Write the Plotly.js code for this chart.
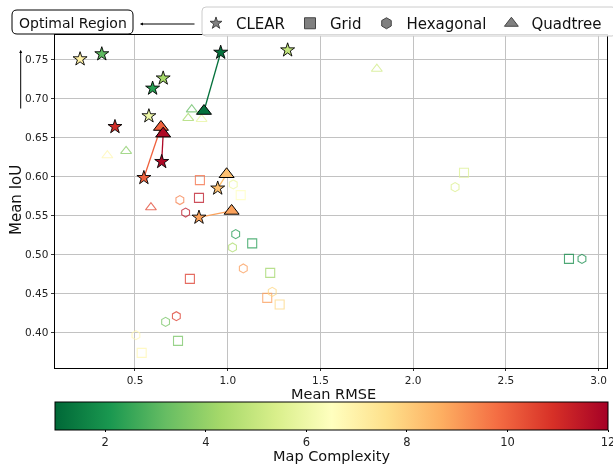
<!DOCTYPE html>
<html>
<head>
<meta charset="utf-8">
<script src="https://cdn.plot.ly/plotly-3.0.1.min.js"></script>
<style>html,body{margin:0;padding:0;background:#fff;}#chart{width:613px;height:465px;}</style>
</head>
<body>
<div id="chart"></div>
<script>
// ---- data ----
const clearX = [0.204, 0.321, 0.962, 1.323, 0.652, 0.595, 0.575, 0.392, 0.644, 0.548, 0.946, 0.845];
const clearY = [0.7506, 0.757, 0.759, 0.762, 0.726, 0.713, 0.6776, 0.6638, 0.619, 0.5985, 0.585, 0.5477];
const clearC = [7.0, 3.1, 1.2, 4.9, 4.3, 2.3, 6.0, 11.0, 11.8, 10.0, 8.3, 8.9];

const quadFilledX = [0.872, 0.640, 0.652, 0.994, 1.021];
const quadFilledY = [0.684, 0.6635, 0.655, 0.603, 0.556];
const quadFilledC = [1.2, 10.0, 11.8, 8.3, 8.9];
const pairStar = [2, 9, 8, 10, 11];

const quadOpenX = [0.806, 0.787, 0.859, 0.351, 0.452, 0.586, 1.804];
const quadOpenY = [0.686, 0.675, 0.6737, 0.6272, 0.6327, 0.5605, 0.738];
const quadOpenC = [3.2, 4.3, 5.8, 6.8, 3.8, 10.5, 5.2];

const gridX = [0.850, 0.845, 1.070, 2.274, 1.132, 1.229, 0.796, 1.213, 1.280, 0.732, 0.536, 2.840];
const gridY = [0.5955, 0.5728, 0.5763, 0.6049, 0.5144, 0.4767, 0.469, 0.4446, 0.4362, 0.3895, 0.3742, 0.4946];
const gridC = [9.8, 11.5, 6.5, 5.5, 2.2, 4.2, 10.7, 9.0, 7.8, 3.5, 6.8, 1.8];

const hexX = [1.030, 0.742, 0.773, 1.043, 1.026, 1.084, 1.240, 0.723, 0.665, 0.505, 2.226, 2.910];
const hexY = [0.590, 0.5699, 0.554, 0.5263, 0.5092, 0.4823, 0.4523, 0.4212, 0.4139, 0.3968, 0.5865, 0.4946];
const hexC = [6.0, 9.5, 11.5, 2.2, 4.5, 9.0, 7.8, 10.7, 3.5, 6.8, 5.5, 1.8];

const legendNames = ['CLEAR', 'Grid', 'Hexagonal', 'Quadtree'];
const xTicks = [0.5, 1.0, 1.5, 2.0, 2.5, 3.0];
const yTicks = [0.40, 0.45, 0.50, 0.55, 0.60, 0.65, 0.70, 0.75];
const cTicks = [2, 4, 6, 8, 10, 12];

// ---- style ----
const W = 613, H = 465, ML = 55, MR = 6, MT = 35, MB = 97;
const PW = W - ML - MR, PH = H - MT - MB;
const px2x = p => (p - ML) / PW;
const py2y = p => 1 - (p - MT) / PH;
function roundRect(x0, y0, x1, y1, r){
  const X = px2x, Y = py2y;
  return 'M' + X(x0 + r) + ',' + Y(y0) + ' L' + X(x1 - r) + ',' + Y(y0) +
    ' Q' + X(x1) + ',' + Y(y0) + ' ' + X(x1) + ',' + Y(y0 + r) +
    ' L' + X(x1) + ',' + Y(y1 - r) + ' Q' + X(x1) + ',' + Y(y1) + ' ' + X(x1 - r) + ',' + Y(y1) +
    ' L' + X(x0 + r) + ',' + Y(y1) + ' Q' + X(x0) + ',' + Y(y1) + ' ' + X(x0) + ',' + Y(y1 - r) +
    ' L' + X(x0) + ',' + Y(y0 + r) + ' Q' + X(x0) + ',' + Y(y0) + ' ' + X(x0 + r) + ',' + Y(y0) + ' Z';
}

const CMIN = 1, CMAX = 12;
const scale = [[0,'#006837'],[0.1,'#1a9850'],[0.2,'#66bd63'],[0.3,'#a6d96a'],[0.4,'#d9ef8b'],[0.5,'#ffffbf'],[0.6,'#fee08b'],[0.7,'#fdae61'],[0.8,'#f46d43'],[0.9,'#d73027'],[1,'#a50026']];
function hex2rgb(h){return [parseInt(h.slice(1,3),16),parseInt(h.slice(3,5),16),parseInt(h.slice(5,7),16)];}
function colorFor(v){
  let t = (v - CMIN) / (CMAX - CMIN); t = Math.max(0, Math.min(1, t));
  for (let i = 1; i < scale.length; i++) {
    if (t <= scale[i][0]) {
      const a = scale[i-1], b = scale[i];
      const f = (t - a[0]) / (b[0] - a[0]);
      const ca = hex2rgb(a[1]), cb = hex2rgb(b[1]);
      return 'rgb(' + ca.map((c,k)=>Math.round(c + (cb[k]-c)*f)).join(',') + ')';
    }
  }
  return scale[scale.length-1][1];
}
const FONT = 'DejaVu Sans, sans-serif';
const common = {colorscale: scale, cmin: CMIN, cmax: CMAX};

const traces = [];
// connecting lines
for (let i = 0; i < quadFilledX.length; i++) {
  const s = pairStar[i];
  traces.push({type:'scatter', mode:'lines', x:[clearX[s], quadFilledX[i]], y:[clearY[s], quadFilledY[i]],
    line:{color: colorFor(quadFilledC[i]), width:1.3}, showlegend:false, hoverinfo:'skip'});
}
function openTrace(x, y, c, sym, size){
  return {type:'scatter', mode:'markers', x:x, y:y, showlegend:false, opacity:0.75,
    marker:Object.assign({symbol:sym, size:size, color:c, line:{width:1.1}}, common)};
}
traces.push(openTrace(gridX, gridY, gridC, 'square-open', 9));
traces.push(openTrace(hexX, hexY, hexC, 'hexagon-open', 9));
traces.push(openTrace(quadOpenX, quadOpenY, quadOpenC, 'triangle-up-open', 9.5));
traces.push({type:'scatter', mode:'markers', x:quadFilledX, y:quadFilledY, showlegend:false,
  marker:Object.assign({symbol:'triangle-up', size:13, color:quadFilledC, line:{color:'#000', width:1}}, common)});
traces.push({type:'scatter', mode:'markers', x:clearX, y:clearY, showlegend:false,
  marker:Object.assign({symbol:'star', size:10.5, color:clearC, line:{color:'#000', width:0.9},
    showscale:true,
    colorbar:{orientation:'h', x:0, xanchor:'left', y:-0.102, yanchor:'top', lenmode:'pixels', len:553,
      thickness:28, xpad:0, ypad:0, outlinewidth:1, outlinecolor:'#000', tickvals:cTicks, ticks:'outside',
      ticklen:2, tickcolor:'#000', ticklabeloverflow:'allow', tickfont:{family:FONT, size:11.5, color:'#222'},
      title:{text:''}}}, common)});
// legend entries
const legSyms = ['star', 'square', 'hexagon', 'triangle-up'];
const legSizes = [9, 11, 11, 12];
for (let i = 0; i < legendNames.length; i++) {
  traces.push({type:'scatter', mode:'markers', x:[null], y:[null], name:legendNames[i], showlegend:true,
    marker:{symbol:legSyms[i], size:legSizes[i], color:'#808080', line:{color:'#444', width:1}}});
}

const layout = {
  width:W, height:H,
  margin:{l:ML, r:MR, t:MT, b:MB, autoexpand:false},
  paper_bgcolor:'#fff', plot_bgcolor:'#fff',
  font:{family:FONT, color:'#111'},
  xaxis:{range:[0.0687, 3.045], tickvals:xTicks, ticktext:xTicks.map(v=>v.toFixed(1)), showgrid:true, gridcolor:'#c2c2c2', gridwidth:1,
    zeroline:false, showline:true, mirror:true, linecolor:'#000', linewidth:1, ticks:'outside', ticklen:2, tickcolor:'#333',
    tickfont:{family:FONT, size:10.5, color:'#222'}, title:{text:''}},
  yaxis:{range:[0.3548, 0.7814], tickvals:yTicks, ticktext:yTicks.map(v=>v.toFixed(2)), showgrid:true, gridcolor:'#c2c2c2', gridwidth:1,
    zeroline:false, showline:true, mirror:true, linecolor:'#000', linewidth:1, ticks:'outside', ticklen:3.5, tickcolor:'#333',
    tickfont:{family:FONT, size:10.5, color:'#222'}, title:{text:''}},
  showlegend:true,
  legend:{orientation:'h', x:px2x(196), xanchor:'left', y:py2y(7), yanchor:'top', bgcolor:'rgba(0,0,0,0)',
    borderwidth:0, font:{family:FONT, size:15, color:'#111'}},
  shapes:[
    {type:'path', xref:'paper', yref:'paper', path:roundRect(202, 7, 616, 36, 4), fillcolor:'rgba(255,255,255,0.85)',
      line:{color:'#cccccc', width:1}, layer:'above'},
    {type:'path', xref:'paper', yref:'paper', path:roundRect(12, 10, 133, 34, 5), fillcolor:'#ffffff',
      line:{color:'#000', width:1}, layer:'above'}
  ],
  annotations:[
    {xref:'paper', yref:'paper', x:px2x(72.5), y:py2y(22.5), xanchor:'center', yanchor:'middle', text:'Optimal Region', showarrow:false,
      font:{family:FONT, size:14, color:'#111'}},
    {xref:'paper', yref:'paper', x:px2x(140), y:py2y(24), ax:56, ay:0, text:'', showarrow:true,
      arrowhead:2, arrowsize:0.6, arrowwidth:1, arrowcolor:'#000'},
    {xref:'paper', yref:'paper', x:px2x(20.7), y:py2y(50), ax:0, ay:60, text:'', showarrow:true,
      arrowhead:2, arrowsize:0.6, arrowwidth:1, arrowcolor:'#000'},
    {xref:'paper', yref:'paper', x:px2x(333), y:py2y(394), xanchor:'center', yanchor:'middle', text:'Mean RMSE', showarrow:false,
      font:{family:FONT, size:14.5, color:'#111'}, borderpad:0},
    {xref:'paper', yref:'paper', x:px2x(16), y:py2y(200), xanchor:'center', yanchor:'middle', text:'Mean IoU', textangle:-90, showarrow:false,
      font:{family:FONT, size:15, color:'#111'}},
    {xref:'paper', yref:'paper', x:px2x(332), y:py2y(456), xanchor:'center', yanchor:'middle', text:'Map Complexity', showarrow:false,
      font:{family:FONT, size:14.5, color:'#111'}}
  ]
};
Plotly.newPlot('chart', traces, layout, {displayModeBar:false, staticPlot:true});
</script>
</body>
</html>
